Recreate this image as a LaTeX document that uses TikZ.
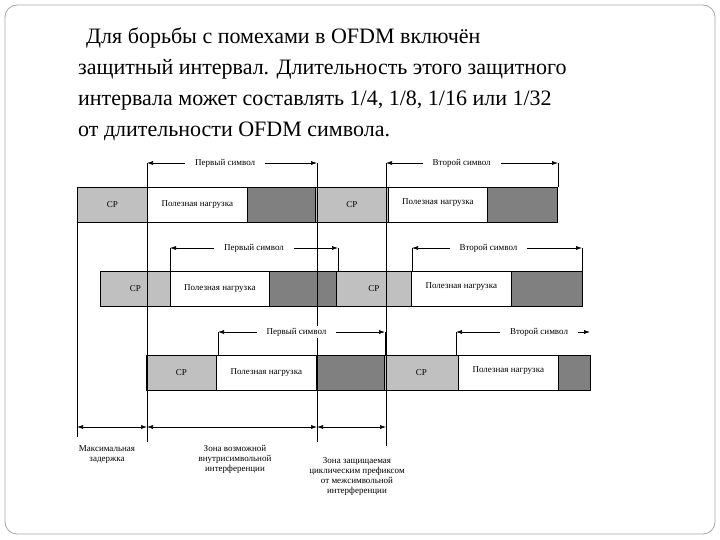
\documentclass[tikz,border=0pt]{standalone}
\usepackage{fontspec}
\setmainfont{Liberation Serif}
\usetikzlibrary{arrows.meta}
\definecolor{lg}{HTML}{C0C0C0}
\definecolor{dg}{HTML}{808080}
\begin{document}
\begin{tikzpicture}[x=1pt,y=-1pt,
  seg/.style={draw=black,line width=0.6pt,minimum height=35pt,anchor=north west,inner sep=0pt,font=\fontsize{9}{10}\selectfont},
  cpb/.style={seg,fill=lg},
  plb/.style={seg,fill=white},
  dkb/.style={seg,fill=dg},
  dim/.style={{Latex[length=6pt,width=4pt]}-{Latex[length=6pt,width=4pt]},line width=0.6pt},
  lbl/.style={fill=white,inner xsep=10pt,inner ysep=2pt,font=\fontsize{9}{10}\selectfont},
  note/.style={align=center,font=\fontsize{9}{10}\selectfont,inner sep=0pt},
  vl/.style={line width=0.6pt}]
\useasboundingbox (0,0) rectangle (720,540);
\draw[gray!70,line width=0.8pt,rounded corners=12pt] (5,5) rectangle (715,534);
\node[anchor=west,font=\fontsize{22}{31}\selectfont,align=left,inner sep=0pt] (title) at (78,84)
 {\hspace*{8pt}Для борьбы с помехами в OFDM включён\\защитный интервал. Длительность этого защитного\\интервала может составлять 1/4, 1/8, 1/16 или 1/32\\от длительности OFDM символа.};
% row 1
\node[cpb,minimum width=70pt] (a1) at (77,187) {CP};
\node[plb,minimum width=100pt] (a2) at (147,187) {Полезная нагрузка};
\node[dkb,minimum width=68pt] (a3) at (247,187) {};
\node[cpb,minimum width=73pt] (a4) at (315,187) {CP};
\node[plb,minimum width=99pt] (a5) at (388,187) {\raisebox{6pt}{Полезная нагрузка}};
\node[dkb,minimum width=70pt] (a6) at (487,187) {};
% row 2
\node[cpb,minimum width=70pt] (b1) at (100,271) {CP};
\node[plb,minimum width=99pt] (b2) at (170,271) {Полезная нагрузка};
\node[dkb,minimum width=67pt] (b3) at (269,271) {};
\node[cpb,minimum width=75pt] (b4) at (336,271) {CP};
\node[plb,minimum width=100pt] (b5) at (411,271) {\raisebox{6pt}{Полезная нагрузка}};
\node[dkb,minimum width=71pt] (b6) at (511,271) {};
% row 3
\node[cpb,minimum width=70pt] (c1) at (146,355) {CP};
\node[plb,minimum width=100pt] (c2) at (216,355) {Полезная нагрузка};
\node[dkb,minimum width=68pt] (c3) at (316,355) {};
\node[cpb,minimum width=74pt] (c4) at (384,355) {CP};
\node[plb,minimum width=100pt] (c5) at (458,355) {\raisebox{6pt}{Полезная нагрузка}};
\node[dkb,minimum width=32pt] (c6) at (558,355) {};
% vertical lines
\coordinate (v1t) at (77,222); \coordinate (v1b) at (77,437);
\coordinate (v2t) at (147,163); \coordinate (v2b) at (147,442);
\coordinate (v3t) at (317,163); \coordinate (v3b) at (317,442);
\coordinate (v4t) at (386,163); \coordinate (v4b) at (386,446);
\foreach \i in {1,2,3,4} \draw[vl] (v\i t) -- (v\i b);
\coordinate (r1e) at (558,163); \draw[vl] (r1e) -- (558,187);
\coordinate (r2s) at (170,248); \coordinate (r2m) at (338,248);
\coordinate (r2n) at (412,248); \coordinate (r2e) at (582,248);
\draw[vl] (r2s) -- (170,271); \draw[vl] (r2m) -- (338,271); \draw[vl] (r2n) -- (412,271); \draw[vl] (r2e) -- (582,271);
\coordinate (r3s) at (218,332); \coordinate (r3m) at (385,332);
\coordinate (r3n) at (456,332); \coordinate (r3e) at (590,332);
\draw[vl] (r3s) -- (218,355); \draw[vl] (r3m) -- (385,355); \draw[vl] (r3n) -- (456,355);
% symbol arrows
\draw[dim] (v2t) -- (v3t) node[lbl,pos=0.46] (s1) {Первый символ};
\draw[dim] (v4t) -- (r1e) node[lbl,pos=0.44] (s2) {Второй символ};
\draw[dim] (r2s) -- (r2m) node[lbl,pos=0.5] (s3) {Первый символ};
\draw[dim] (r2n) -- (r2e) node[lbl,pos=0.45] (s4) {Второй символ};
\draw[dim] (r3s) -- (r3m) node[lbl,pos=0.47] (s5) {Первый символ};
\draw[dim] (r3n) -- (r3e) node[lbl,pos=0.62] (s6) {Второй символ};
% dimension arrows
\coordinate (d1) at (77,427); \coordinate (d2) at (147,427);
\coordinate (d3) at (317,427); \coordinate (d4) at (386,427);
\draw[dim] (d1) -- (d2); \draw[dim] (d2) -- (d3); \draw[dim] (d3) -- (d4);
\node[note,anchor=north] (n1) at (107,445) {Максимальная\\задержка};
\node[note,anchor=north] (n2) at (235,445) {Зона возможной\\внутрисимвольной\\интерференции};
\node[note,anchor=north] (n3) at (357,457) {Зона защищаемая\\циклическим префиксом\\от межсимвольной\\интерференции};
\end{tikzpicture}
\end{document}
